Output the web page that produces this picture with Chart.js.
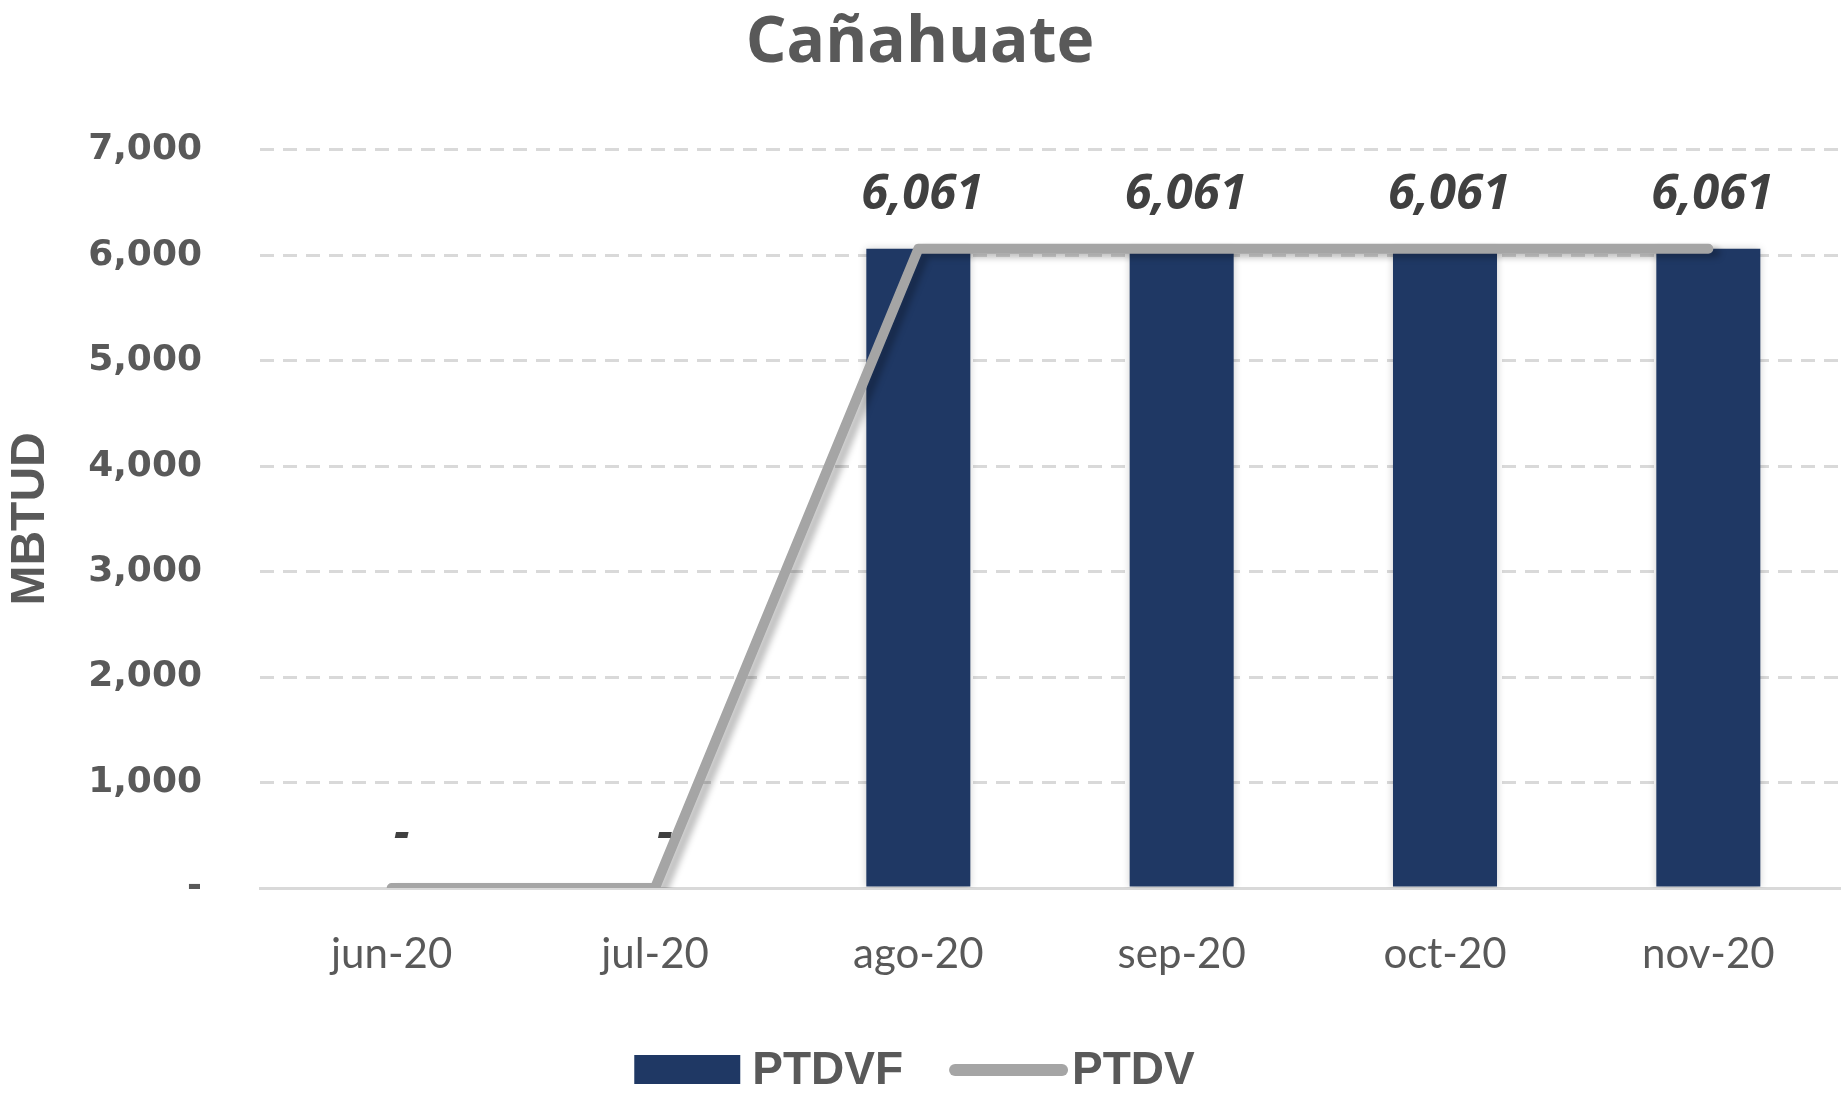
<!DOCTYPE html>
<html><head><meta charset="utf-8">
<script src="https://cdn.jsdelivr.net/npm/chart.js@4/dist/chart.umd.min.js"></script>
<style>html,body{margin:0;padding:0;background:#fff;} #wrap{position:absolute;left:0;top:0;width:1845px;height:1096px;}</style>
</head><body><div id="wrap"><canvas id="c"></canvas></div>
<script>
const categories = ['jun-20', 'jul-20', 'ago-20', 'sep-20', 'oct-20', 'nov-20'];
const ptdvf = [0, 0, 6061, 6061, 6061, 6061];
const ptdv = [0, 0, 6061, 6061, 6061, 6061];
const yTicks = [0, 1000, 2000, 3000, 4000, 5000, 6000, 7000];
const seriesNames = ['PTDVF', 'PTDV'];
const chartTitle = 'Cañahuate';
const yTitle = 'MBTUD';

const barColor = '#1F3864';
const lineColor = '#A5A5A5';
const textColor = '#595959';

const fmt = v => v === 0 ? '-' : v.toLocaleString('en-US');

const shadowPlugin = {
  id: 'shadows',
  beforeDatasetDraw(chart, args) {
    const ctx = chart.ctx;
    ctx.save();
    if (args.index === 1) {
      ctx.shadowColor = 'rgba(0,0,0,0.25)';
      ctx.shadowBlur = 6; ctx.shadowOffsetX = 7; ctx.shadowOffsetY = 4;
    } else {
      ctx.shadowColor = 'rgba(0,0,0,0.2)';
      ctx.shadowBlur = 8; ctx.shadowOffsetX = 0; ctx.shadowOffsetY = 0;
    }
  },
  afterDatasetDraw(chart) { chart.ctx.restore(); }
};

const dataLabelPlugin = {
  id: 'dataLabels',
  afterDatasetsDraw(chart) {
    const ctx = chart.ctx;
    const meta = chart.getDatasetMeta(0);
    const data = chart.data.datasets[0].data;
    ctx.save();
    ctx.font = 'italic bold 49px "Open Sans"';
    ctx.fillStyle = '#404040';
    ctx.textAlign = 'center';
    ctx.textBaseline = 'alphabetic';
    meta.data.forEach((el, i) => {
      const v = data[i];
      ctx.fillText(fmt(v), el.x + (v === 0 ? 10 : 4), el.y - 40);
    });
    ctx.restore();
  }
};

const legendPlugin = {
  id: 'customLegend',
  afterDraw(chart) {
    const ctx = chart.ctx;
    const ds = chart.data.datasets;
    ctx.save();
    ctx.font = 'bold 46px "Liberation Sans"';
    const w1 = ctx.measureText(ds[0].label).width;
    const w2 = ctx.measureText(ds[1].label).width;
    const sw1 = 106, sw2 = 119, g1 = 12, g2 = 46, g3 = 4;
    const total = sw1 + g1 + w1 + g2 + sw2 + g3 + w2;
    let x = chart.width / 2 - 8 - total / 2;
    const cy = 1070;
    ctx.fillStyle = ds[0].backgroundColor;
    ctx.fillRect(x, cy - 15, sw1, 29);
    x += sw1 + g1;
    ctx.fillStyle = textColor;
    ctx.textBaseline = 'middle';
    ctx.textAlign = 'left';
    ctx.fillText(ds[0].label, x, cy + 1);
    x += w1 + g2;
    ctx.strokeStyle = ds[1].borderColor;
    ctx.lineWidth = 12;
    ctx.lineCap = 'round';
    ctx.beginPath();
    ctx.moveTo(x + 6, cy);
    ctx.lineTo(x + sw2 - 6, cy);
    ctx.stroke();
    x += sw2 + g3;
    ctx.fillText(ds[1].label, x, cy + 1);
    ctx.restore();
  }
};

new Chart(document.getElementById('c'), {
  type: 'bar',
  data: {
    labels: categories,
    datasets: [
      {
        type: 'bar', label: seriesNames[0], data: ptdvf,
        backgroundColor: barColor, borderWidth: 0,
        barPercentage: 0.395, categoryPercentage: 1.0, order: 1
      },
      {
        type: 'line', label: seriesNames[1], data: ptdv,
        borderColor: lineColor, backgroundColor: lineColor, borderWidth: 10,
        pointRadius: 0, tension: 0, borderCapStyle: 'round', borderJoinStyle: 'round',
        fill: false, order: 0
      }
    ]
  },
  options: {
    responsive: true,
    maintainAspectRatio: false,
    animation: false,
    layout: { padding: { left: 0, right: 5, top: 0, bottom: 80 } },
    plugins: {
      legend: { display: false },
      tooltip: { enabled: false },
      title: {
        display: true, text: chartTitle, color: textColor,
        font: { family: 'Open Sans', weight: 'bold', size: 64 },
        padding: { top: 5, bottom: 68 }
      }
    },
    scales: {
      x: {
        grid: { display: false, drawTicks: false },
        border: { display: true, color: '#D9D9D9', width: 3 },
        ticks: { color: textColor, font: { family: 'Lato', size: 42 }, padding: 41, maxRotation: 0 },
        afterFit: s => { s.height = 128; }
      },
      y: {
        min: 0, max: 7000,
        afterBuildTicks: s => { s.ticks = yTicks.map(v => ({ value: v })); },
        grid: {
          drawTicks: false, tickLength: 0, lineWidth: 3,
          color: c => (c.tick && c.tick.value === 0) ? 'rgba(0,0,0,0)' : '#D9D9D9'
        },
        border: { display: false, dash: [14, 9] },
        ticks: {
          color: textColor, padding: 58,
          font: { family: 'DejaVu Sans', weight: 'bold', size: 36 },
          callback: v => fmt(v)
        },
        title: {
          display: true, text: yTitle, color: textColor,
          font: { family: 'Liberation Sans', weight: 'bold', size: 48 },
          padding: { top: 2, bottom: 0 }
        },
        afterFit: s => { s.width = 260; }
      }
    }
  },
  plugins: [shadowPlugin, dataLabelPlugin, legendPlugin]
});
</script>
</body></html>
